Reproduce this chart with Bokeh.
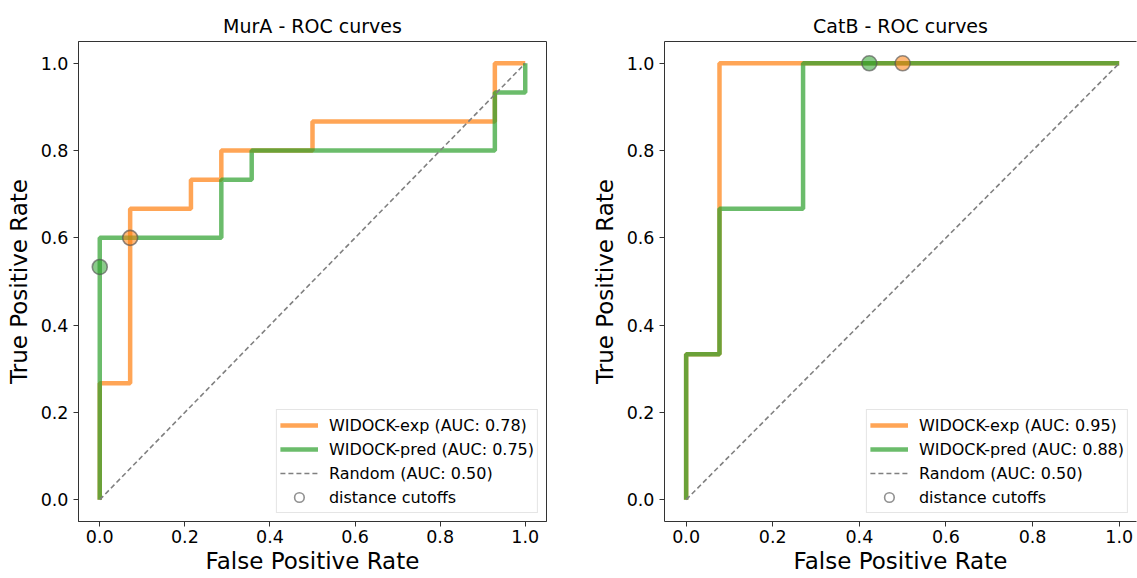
from bokeh.plotting import figure
from bokeh.layouts import row
from bokeh.models import Legend, LegendItem, FixedTicker, PrintfTickFormatter, Range1d, LinearAxis
from bokeh.embed import file_html
from bokeh.resources import INLINE

# ---------------- data ----------------
titles = ["MurA - ROC curves", "CatB - ROC curves"]

# MurA
mura_exp_fpr = [0.0, 0.0, 0.0714, 0.0714, 0.2143, 0.2143, 0.2857, 0.2857, 0.5, 0.5, 0.9286, 0.9286, 1.0]
mura_exp_tpr = [0.0, 0.2667, 0.2667, 0.6667, 0.6667, 0.7333, 0.7333, 0.8, 0.8, 0.8667, 0.8667, 1.0, 1.0]
mura_pred_fpr = [0.0, 0.0, 0.2857, 0.2857, 0.3571, 0.3571, 0.9286, 0.9286, 1.0, 1.0]
mura_pred_tpr = [0.0, 0.6, 0.6, 0.7333, 0.7333, 0.8, 0.8, 0.9333, 0.9333, 1.0]
mura_cut_fpr = [0.0, 0.0714]
mura_cut_tpr = [0.5333, 0.6]
mura_auc = [0.78, 0.75]

# CatB
catb_exp_fpr = [0.0, 0.0, 0.077, 0.077, 1.0]
catb_exp_tpr = [0.0, 0.3333, 0.3333, 1.0, 1.0]
catb_pred_fpr = [0.0, 0.0, 0.077, 0.077, 0.27, 0.27, 1.0]
catb_pred_tpr = [0.0, 0.3333, 0.3333, 0.6667, 0.6667, 1.0, 1.0]
catb_cut_fpr = [0.423, 0.5]
catb_cut_tpr = [1.0, 1.0]
catb_auc = [0.95, 0.88]

random_x = [0.0, 1.0]
random_y = [0.0, 1.0]
random_auc = 0.50

ticks = [0.0, 0.2, 0.4, 0.6, 0.8, 1.0]

ORANGE = "#ff7f0e"
GREEN = "#2ca02c"
FONT = "DejaVu Sans"


def make_plot(title, exp_fpr, exp_tpr, pred_fpr, pred_tpr, cut_fpr, cut_tpr, aucs,
              width, x_end, border_left, border_right, right_open):
    p = figure(width=width, height=578, output_backend="svg", toolbar_location=None,
               x_range=Range1d(-0.05, x_end), y_range=Range1d(-0.05, 1.05),
               min_border_left=border_left, min_border_right=border_right,
               min_border_top=41, min_border_bottom=57)
    p.title.text = title
    p.title.text_font = FONT
    p.title.text_font_size = "19px"
    p.title.text_font_style = "normal"
    p.title.align = "center"
    p.title.text_color = "#000000"
    p.title.standoff = 9
    p.xgrid.visible = False
    p.ygrid.visible = False
    p.background_fill_color = "white"
    p.border_fill_color = "white"

    for ax, lab in ((p.xaxis[0], "False Positive Rate"), (p.yaxis[0], "True Positive Rate")):
        ax.axis_label = lab
        ax.axis_label_text_font = FONT
        ax.axis_label_text_font_size = "23px"
        ax.axis_label_text_font_style = "normal"
        ax.axis_label_text_color = "#000000"
        ax.ticker = FixedTicker(ticks=ticks)
        ax.formatter = PrintfTickFormatter(format="%.1f")
        ax.major_label_text_font = FONT
        ax.major_label_text_font_size = "17.5px"
        ax.major_label_text_color = "#000000"
        ax.major_tick_out = 5
        ax.major_tick_in = 0
        ax.minor_tick_out = 0
        ax.minor_tick_in = 0
        ax.major_tick_line_color = "#333333"
        ax.axis_line_color = "#333333"
    p.xaxis[0].major_label_standoff = 3
    p.xaxis[0].axis_label_standoff = 2
    p.yaxis[0].major_label_standoff = 5
    p.yaxis[0].axis_label_standoff = 6

    if right_open:
        p.outline_line_color = None
        top = LinearAxis(ticker=FixedTicker(ticks=[]), major_label_text_font_size="0px",
                         major_tick_out=0, major_tick_in=0, minor_tick_out=0, minor_tick_in=0,
                         axis_line_color="#333333", major_label_standoff=0)
        p.add_layout(top, "above")
    else:
        p.outline_line_color = "#333333"
        p.outline_line_alpha = 1.0

    r_exp = p.line(exp_fpr, exp_tpr, line_color=ORANGE, line_alpha=0.7, line_width=4.5)
    r_pred = p.line(pred_fpr, pred_tpr, line_color=GREEN, line_alpha=0.7, line_width=4.5)
    r_rand = p.line(random_x, random_y, line_color="#808080", line_width=1.6, line_dash="5 3")
    # coloured fills of the cutoff markers
    p.scatter(cut_fpr[:1], cut_tpr[:1], size=15, fill_color=GREEN, fill_alpha=0.55, line_color=None)
    p.scatter(cut_fpr[1:], cut_tpr[1:], size=15, fill_color=ORANGE, fill_alpha=0.55, line_color=None)
    # grey outlines (also used for the legend entry)
    r_cut = p.scatter(cut_fpr, cut_tpr, size=15, fill_color=None,
                      line_color="#555555", line_alpha=0.65, line_width=1.6)

    legend = Legend(items=[
        LegendItem(label="WIDOCK-exp (AUC: %.2f)" % aucs[0], renderers=[r_exp]),
        LegendItem(label="WIDOCK-pred (AUC: %.2f)" % aucs[1], renderers=[r_pred]),
        LegendItem(label="Random (AUC: %.2f)" % random_auc, renderers=[r_rand]),
        LegendItem(label="distance cutoffs", renderers=[r_cut]),
    ], location="bottom_right")
    legend.label_text_font = FONT
    legend.label_text_font_size = "16px"
    legend.label_text_color = "#000000"
    legend.glyph_width = 38
    legend.glyph_height = 24
    legend.label_height = 20
    legend.label_standoff = 11
    legend.spacing = 0
    legend.padding = 3
    legend.margin = 8
    legend.border_line_color = "#cccccc"
    legend.border_line_width = 1
    legend.background_fill_color = "white"
    legend.background_fill_alpha = 0.8
    p.add_layout(legend, "center")
    return p


p1 = make_plot(titles[0], mura_exp_fpr, mura_exp_tpr, mura_pred_fpr, mura_pred_tpr,
               mura_cut_fpr, mura_cut_tpr, mura_auc,
               width=584, x_end=1.05, border_left=78, border_right=38, right_open=False)
p2 = make_plot(titles[1], catb_exp_fpr, catb_exp_tpr, catb_pred_fpr, catb_pred_tpr,
               catb_cut_fpr, catb_cut_tpr, catb_auc,
               width=553, x_end=1.04, border_left=80, border_right=1, right_open=True)

layout = row(p1, p2)
open("out.html", "w").write(file_html(layout, INLINE))
